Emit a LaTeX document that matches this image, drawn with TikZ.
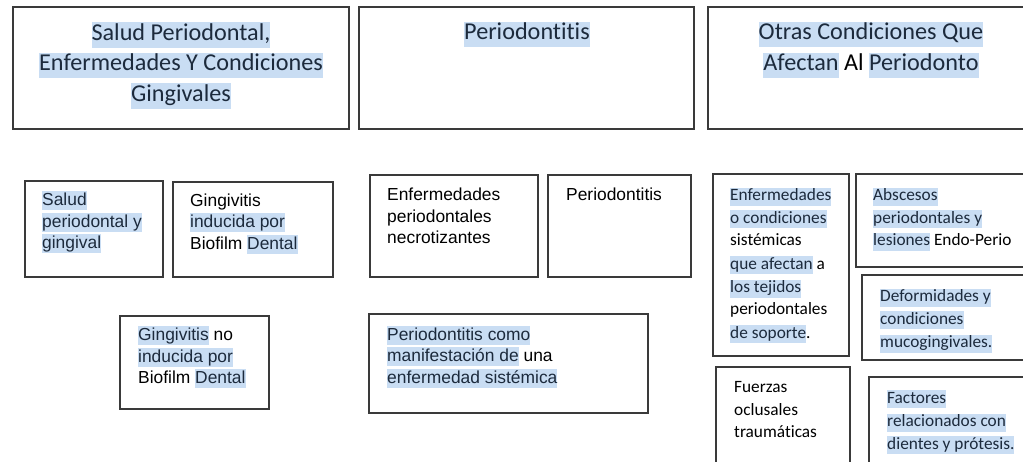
\documentclass[tikz,border=0pt]{standalone}
\usepackage{fontspec}
\setmainfont{Carlito}[Ligatures={NoCommon}]
\newfontfamily\arialf{Liberation Sans}
\definecolor{hlblue}{RGB}{201,221,243}
\definecolor{hltext}{RGB}{28,42,60}
\definecolor{boxgray}{RGB}{58,58,58}
\newcommand\hlc[1]{{\fboxsep=0pt\colorbox{hlblue}{\rule[-0.29em]{0pt}{1.04em}\color{hltext}#1}}}
\newcommand\hla[1]{{\fboxsep=0pt\colorbox{hlblue}{\rule[-0.25em]{0pt}{1.09em}\color{hltext}#1}}}
\tikzset{
  box/.style={draw=boxgray, line width=1.3pt, inner sep=0pt, outer sep=0pt, anchor=north west},
  head/.style={font=\fontsize{24.2}{30}\selectfont, inner sep=0pt, anchor=base},
  sa/.style={font=\arialf\fontsize{17.4}{21}\selectfont, inner sep=0pt, anchor=base west},
  sc/.style={font=\fontsize{17.3}{23}\selectfont, inner sep=0pt, anchor=base west},
}
\begin{document}
\begin{tikzpicture}[x=1pt,y=-1pt]
\useasboundingbox (0,0) rectangle (1023,462);
\clip (0,0) rectangle (1023,462);
% header boxes
\node[box, minimum width=336pt, minimum height=122pt] (h1) at (13,7) {};
\node[box, minimum width=335pt, minimum height=122pt] (h2) at (359,7) {};
\node[box, minimum width=330pt, minimum height=122pt] (h3) at (708,7) {};
\node[head] (h1a) at (181,40.5) {\hlc{Salud Periodontal,}};
\node[head] (h1b) at (181,71) {\hlc{Enfermedades Y Condiciones}};
\node[head] (h1c) at (181,101.5) {\hlc{Gingivales}};
\node[head] (h2a) at (527,40) {\hlc{Periodontitis}};
\node[head] (h3a) at (871,40) {\hlc{Otras Condiciones Que}};
\node[head] (h3b) at (871,71) {\hlc{Afectan} Al \hlc{Periodonto}};
% small boxes
\node[box, minimum width=138pt, minimum height=96pt] (b1) at (25,181) {};
\node[box, minimum width=160pt, minimum height=95pt] (b2) at (173,182) {};
\node[box, minimum width=149pt, minimum height=93pt] (b3) at (120,316) {};
\node[box, minimum width=168pt, minimum height=102pt] (b4) at (370,175) {};
\node[box, minimum width=143pt, minimum height=102pt] (b5) at (548,175) {};
\node[box, minimum width=279pt, minimum height=99pt] (b6) at (369,314) {};
\node[box, minimum width=136pt, minimum height=182pt] (b7) at (713,174) {};
\node[box, minimum width=180pt, minimum height=93pt] (b8) at (856,174) {};
\node[box, minimum width=180pt, minimum height=85pt] (b9) at (862,275) {};
\node[box, minimum width=134pt, minimum height=110pt] (b10) at (716,367) {};
\node[box, minimum width=170pt, minimum height=100pt] (b11) at (869,377) {};
% texts b1
\node[sa] (t1a) at (42,206) {\hla{Salud}};
\node[sa] (t1b) at (42,227.5) {\hla{periodontal y}};
\node[sa] (t1c) at (42,249) {\hla{gingival}};
% b2
\node[sa] (t2a) at (190,206.5) {Gingivitis};
\node[sa] (t2b) at (190,228) {\hla{inducida por}};
\node[sa] (t2c) at (190,250) {Biofilm \hla{Dental}};
% b3
\node[sa] (t3a) at (138,340.7) {\hla{Gingivitis} no};
\node[sa] (t3b) at (138,362.3) {\hla{inducida por}};
\node[sa] (t3c) at (138,384) {Biofilm \hla{Dental}};
% b4
\node[sa] (t4a) at (387,201) {Enfermedades};
\node[sa] (t4b) at (387,222.5) {periodontales};
\node[sa] (t4c) at (387,244) {necrotizantes};
% b5
\node[sa] (t5a) at (566,201) {Periodontitis};
% b6
\node[sa] (t6a) at (387,340.7) {\hla{Periodontitis como}};
\node[sa] (t6b) at (387,362) {\hla{manifestación de} una};
\node[sa] (t6c) at (387,383.5) {\hla{enfermedad sistémica}};
% b7
\node[sc] (t7a) at (730,201) {\hlc{Enfermedades}};
\node[sc] (t7b) at (730,223.3) {\hlc{o condiciones}};
\node[sc] (t7c) at (730,246) {sistémicas};
\node[sc] (t7d) at (730,269.3) {\hlc{que afectan} a};
\node[sc] (t7e) at (730,293) {\hlc{los tejidos}};
\node[sc] (t7f) at (730,315) {periodontales};
\node[sc] (t7g) at (730,338.3) {\hlc{de soporte}.};
% b8
\node[sc] (t8a) at (873,201) {\hlc{Abscesos}};
\node[sc] (t8b) at (873,223.3) {\hlc{periodontales y}};
\node[sc] (t8c) at (873,246) {\hlc{lesiones} Endo-Perio};
% b9
\node[sc] (t9a) at (880,301.7) {\hlc{Deformidades y}};
\node[sc] (t9b) at (880,324.3) {\hlc{condiciones}};
\node[sc] (t9c) at (880,347.7) {\hlc{mucogingivales.}};
% b10
\node[sc] (t10a) at (734,392.7) {Fuerzas};
\node[sc] (t10b) at (734,415.7) {oclusales};
\node[sc] (t10c) at (734,437.7) {traumáticas};
% b11
\node[sc] (t11a) at (887,403.3) {\hlc{Factores}};
\node[sc] (t11b) at (887,426.7) {\hlc{relacionados con}};
\node[sc] (t11c) at (887,449.3) {\hlc{dientes y prótesis.}};
\end{tikzpicture}
\end{document}
